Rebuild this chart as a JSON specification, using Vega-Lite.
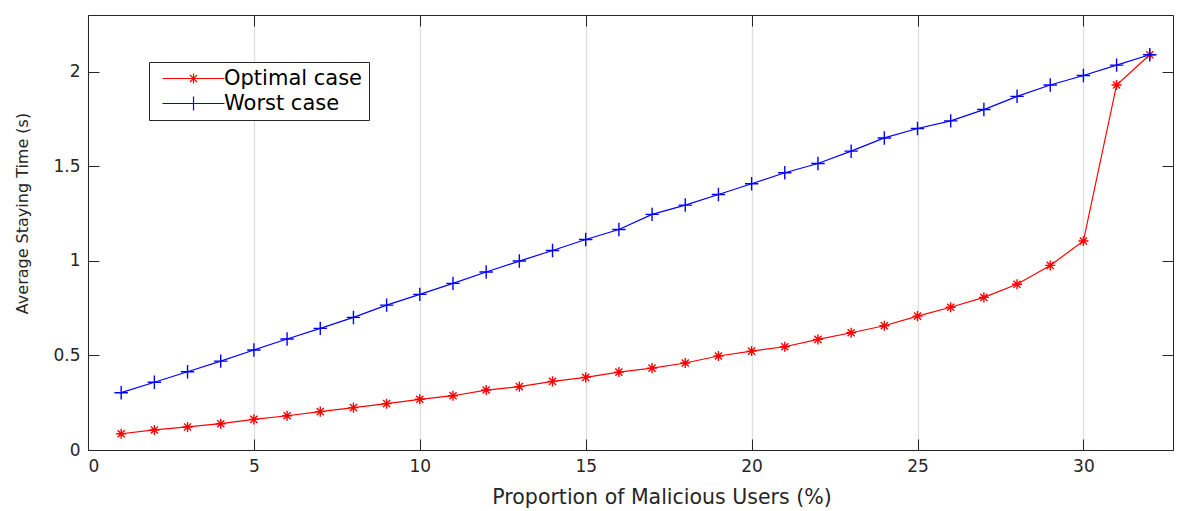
{
  "$schema": "https://vega.github.io/schema/vega-lite/v6.json",
  "width": 1085,
  "height": 435,
  "autosize": {"type": "none"},
  "padding": {"left": 88, "top": 15, "right": 4, "bottom": 61},
  "background": "white",
  "config": {
    "font": "DejaVu Sans",
    "view": {"stroke": null},
    "axis": {
      "domainColor": "#262626",
      "tickColor": "#262626",
      "labelColor": "#262626",
      "titleColor": "#262626",
      "labelFont": "DejaVu Sans",
      "titleFont": "DejaVu Sans",
      "titleFontWeight": "normal",
      "labelFontSize": 17,
      "tickSize": -11,
      "labelPadding": 19,
      "domainWidth": 1,
      "tickWidth": 1
    }
  },
  "data": {
    "values": [
      {"p": 1, "case": "Optimal case", "t": 0.086},
      {"p": 2, "case": "Optimal case", "t": 0.106},
      {"p": 3, "case": "Optimal case", "t": 0.122},
      {"p": 4, "case": "Optimal case", "t": 0.139},
      {"p": 5, "case": "Optimal case", "t": 0.162},
      {"p": 6, "case": "Optimal case", "t": 0.181},
      {"p": 7, "case": "Optimal case", "t": 0.203},
      {"p": 8, "case": "Optimal case", "t": 0.224},
      {"p": 9, "case": "Optimal case", "t": 0.245},
      {"p": 10, "case": "Optimal case", "t": 0.268},
      {"p": 11, "case": "Optimal case", "t": 0.287},
      {"p": 12, "case": "Optimal case", "t": 0.317},
      {"p": 13, "case": "Optimal case", "t": 0.335},
      {"p": 14, "case": "Optimal case", "t": 0.363},
      {"p": 15, "case": "Optimal case", "t": 0.384},
      {"p": 16, "case": "Optimal case", "t": 0.412},
      {"p": 17, "case": "Optimal case", "t": 0.433},
      {"p": 18, "case": "Optimal case", "t": 0.46},
      {"p": 19, "case": "Optimal case", "t": 0.497},
      {"p": 20, "case": "Optimal case", "t": 0.523},
      {"p": 21, "case": "Optimal case", "t": 0.546},
      {"p": 22, "case": "Optimal case", "t": 0.585},
      {"p": 23, "case": "Optimal case", "t": 0.62},
      {"p": 24, "case": "Optimal case", "t": 0.657},
      {"p": 25, "case": "Optimal case", "t": 0.708},
      {"p": 26, "case": "Optimal case", "t": 0.755},
      {"p": 27, "case": "Optimal case", "t": 0.807},
      {"p": 28, "case": "Optimal case", "t": 0.876},
      {"p": 29, "case": "Optimal case", "t": 0.976},
      {"p": 30, "case": "Optimal case", "t": 1.105},
      {"p": 31, "case": "Optimal case", "t": 1.93},
      {"p": 32, "case": "Optimal case", "t": 2.09},
      {"p": 1, "case": "Worst case", "t": 0.303},
      {"p": 2, "case": "Worst case", "t": 0.358},
      {"p": 3, "case": "Worst case", "t": 0.414},
      {"p": 4, "case": "Worst case", "t": 0.47},
      {"p": 5, "case": "Worst case", "t": 0.529},
      {"p": 6, "case": "Worst case", "t": 0.587},
      {"p": 7, "case": "Worst case", "t": 0.643},
      {"p": 8, "case": "Worst case", "t": 0.701},
      {"p": 9, "case": "Worst case", "t": 0.766},
      {"p": 10, "case": "Worst case", "t": 0.823},
      {"p": 11, "case": "Worst case", "t": 0.881},
      {"p": 12, "case": "Worst case", "t": 0.941},
      {"p": 13, "case": "Worst case", "t": 0.999},
      {"p": 14, "case": "Worst case", "t": 1.055},
      {"p": 15, "case": "Worst case", "t": 1.113},
      {"p": 16, "case": "Worst case", "t": 1.166},
      {"p": 17, "case": "Worst case", "t": 1.246},
      {"p": 18, "case": "Worst case", "t": 1.295},
      {"p": 19, "case": "Worst case", "t": 1.351},
      {"p": 20, "case": "Worst case", "t": 1.408},
      {"p": 21, "case": "Worst case", "t": 1.466},
      {"p": 22, "case": "Worst case", "t": 1.515},
      {"p": 23, "case": "Worst case", "t": 1.58},
      {"p": 24, "case": "Worst case", "t": 1.65},
      {"p": 25, "case": "Worst case", "t": 1.70},
      {"p": 26, "case": "Worst case", "t": 1.74},
      {"p": 27, "case": "Worst case", "t": 1.80},
      {"p": 28, "case": "Worst case", "t": 1.87},
      {"p": 29, "case": "Worst case", "t": 1.93},
      {"p": 30, "case": "Worst case", "t": 1.98},
      {"p": 31, "case": "Worst case", "t": 2.035},
      {"p": 32, "case": "Worst case", "t": 2.09}
    ]
  },
  "layer": [
    {
      "mark": {"type": "line", "strokeWidth": 1.2},
      "encoding": {
        "x": {
          "field": "p", "type": "quantitative",
          "scale": {"domain": [0, 32.7], "nice": false, "zero": false},
          "axis": {
            "orient": "bottom",
            "values": [0, 5, 10, 15, 20, 25, 30],
            "title": "Proportion of Malicious Users (%)",
            "titleFontSize": 20.5,
            "titleX": 573.5,
            "titleY": 47,
            "titleBaseline": "middle",
            "titleAnchor": null,
            "grid": true,
            "gridColor": "#dedede",
            "gridWidth": 1.3
          }
        },
        "y": {
          "field": "t", "type": "quantitative",
          "scale": {"domain": [0, 2.3], "nice": false},
          "axis": {
            "orient": "left",
            "values": [0, 0.5, 1, 1.5, 2],
            "format": ".1~f",
            "title": "Average Staying Time (s)",
            "titleFontSize": 16,
            "titleX": -66,
            "titleY": 198,
            "titleBaseline": "middle",
            "titleAnchor": null,
            "grid": false
          }
        },
        "color": {
          "field": "case", "type": "nominal",
          "scale": {"domain": ["Optimal case", "Worst case"], "range": ["#ff0000", "#0000ff"]},
          "legend": {
            "title": null,
            "orient": "none",
            "legendX": 61,
            "legendY": 47,
            "padding": 6,
            "rowPadding": 3,
            "fillColor": "white",
            "strokeColor": "#262626",
            "labelFont": "DejaVu Sans",
            "labelFontSize": 21,
            "labelColor": "#000000",
            "labelOffset": 48,
            "symbolSize": 144,
            "symbolStrokeWidth": 1.2,
            "symbolType": "M-0.5,0L9.83,0",
            "encode": {
              "symbols": {
                "update": {
                  "shape": {"signal": "datum.value == 'Optimal case' ? 'M-0.5,0L9.83,0M4.67,-0.83L4.67,0.83M4.08,-0.59L5.26,0.59M4.08,0.59L5.26,-0.59' : 'M-0.5,0L9.83,0M4.67,-1.17L4.67,1.17'"},
                  "fill": {"value": "transparent"}
                }
              }
            }
          }
        }
      }
    },
    {
      "transform": [{"filter": "datum.case == 'Optimal case'"}],
      "mark": {"type": "point", "filled": false, "strokeWidth": 1.4, "size": 180, "opacity": 1,
               "shape": "M-0.75,0H0.75M0,-0.75V0.75M-0.53,-0.53L0.53,0.53M-0.53,0.53L0.53,-0.53"},
      "encoding": {
        "x": {
          "field": "p", "type": "quantitative",
          "axis": {"orient": "top", "values": [0, 5, 10, 15, 20, 25, 30], "labels": false, "title": null, "grid": false}
        },
        "y": {
          "field": "t", "type": "quantitative",
          "axis": {"orient": "right", "values": [0, 0.5, 1, 1.5, 2], "labels": false, "title": null, "grid": false}
        },
        "color": {"field": "case", "type": "nominal", "legend": null}
      }
    },
    {
      "transform": [{"filter": "datum.case == 'Worst case'"}],
      "mark": {"type": "point", "filled": false, "strokeWidth": 1.4, "size": 180, "opacity": 1,
               "shape": "M-1,0H1M0,-1V1"},
      "encoding": {
        "x": {"field": "p", "type": "quantitative", "axis": null},
        "y": {"field": "t", "type": "quantitative", "axis": null},
        "color": {"field": "case", "type": "nominal", "legend": null}
      }
    }
  ],
  "resolve": {"axis": {"x": "independent", "y": "independent"}}
}
